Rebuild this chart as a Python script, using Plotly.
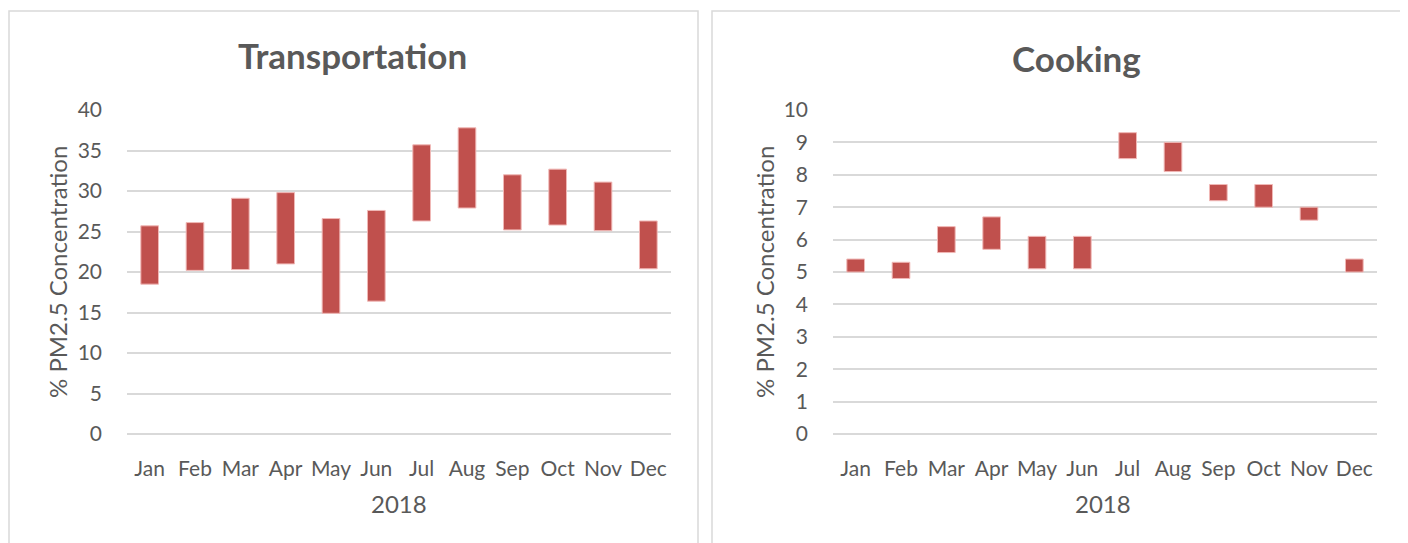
import plotly.graph_objects as go

months = ['Jan', 'Feb', 'Mar', 'Apr', 'May', 'Jun', 'Jul', 'Aug', 'Sep', 'Oct', 'Nov', 'Dec']

# transportation: low / high of the monthly range (% PM2.5)
transport_low = [18.5, 20.2, 20.3, 21.0, 14.9, 16.4, 26.3, 27.9, 25.2, 25.8, 25.1, 20.4]
transport_high = [25.7, 26.1, 29.1, 29.8, 26.6, 27.6, 35.7, 37.8, 32.0, 32.7, 31.1, 26.3]

# cooking
cooking_low = [5.0, 4.8, 5.6, 5.7, 5.1, 5.1, 8.5, 8.1, 7.2, 7.0, 6.6, 5.0]
cooking_high = [5.4, 5.3, 6.4, 6.7, 6.1, 6.1, 9.3, 9.0, 7.7, 7.7, 7.0, 5.4]

# page body has an 8px margin, so the figure is a bit smaller than the window
OFF = 8
W, H = 1400, 535
FONT = 'Lato'
GREY = '#595959'
GRID = '#d9d9d9'
RED = '#c0504d'


def px(x):
    return (x - OFF) / W


def py(y):
    return 1 - (y - OFF) / H


fig = go.Figure()

fig.add_trace(go.Bar(
    x=months,
    y=[h - l for l, h in zip(transport_low, transport_high)],
    base=transport_low,
    marker=dict(color=RED, line=dict(color='#f0b8b6', width=1)),
    xaxis='x', yaxis='y',
    showlegend=False,
))

fig.add_trace(go.Bar(
    x=months,
    y=[h - l for l, h in zip(cooking_low, cooking_high)],
    base=cooking_low,
    marker=dict(color=RED, line=dict(color='#f0b8b6', width=1)),
    xaxis='x2', yaxis='y2',
    showlegend=False,
))

yaxis_style = dict(
    showgrid=True, gridcolor=GRID, gridwidth=1.5,
    zeroline=True, zerolinecolor=GRID, zerolinewidth=1.5,
    showline=False, automargin=False,
    tickfont=dict(family=FONT, size=21, color=GREY),
    ticklabelstandoff=24,
    domain=[py(434), py(110)],
)
xaxis_style = dict(
    showgrid=False, showline=False, zeroline=False, automargin=False,
    tickfont=dict(family=FONT, size=21, color=GREY),
    ticklabelstandoff=20,
    range=[-0.5, 11.5],
)

fig.update_layout(
    width=W, height=H,
    margin=dict(l=0, r=0, t=0, b=0, autoexpand=False),
    paper_bgcolor='white', plot_bgcolor='white',
    bargap=0.61,
    xaxis=dict(xaxis_style, domain=[px(127), px(671)], anchor='y'),
    yaxis=dict(yaxis_style, range=[0, 40], dtick=5, anchor='x'),
    xaxis2=dict(xaxis_style, domain=[px(833), px(1377)], anchor='y2'),
    yaxis2=dict(yaxis_style, range=[0, 10], dtick=1, anchor='x2'),
)

# panel borders
for x0, x1 in [(9, 698), (712, 1403)]:
    fig.add_shape(type='rect', xref='paper', yref='paper',
                  x0=px(x0), x1=px(x1), y0=-0.1, y1=py(11),
                  line=dict(color=GRID, width=1.5))


def label(text, x, y, size, angle=0):
    fig.add_annotation(text=text, xref='paper', yref='paper',
                       x=px(x), y=py(y), xanchor='center', yanchor='middle',
                       showarrow=False, textangle=angle,
                       font=dict(family=FONT, size=size, color=GREY))


label('<b>Transportation</b>', 352, 55, 35)
label('<b>Cooking</b>', 1076, 58, 35)

for x in [58, 765]:
    label('% PM2.5 Concentration', x, 272, 24, angle=-90)

for x in [399, 1103]:
    label('2018', x, 503, 24)

fig.write_html('out.html')
